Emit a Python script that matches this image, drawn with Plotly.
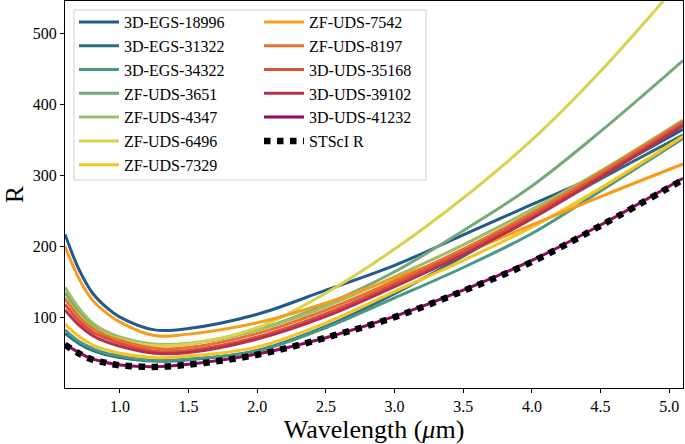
import plotly.graph_objects as go

# ---- data ----
wavelength = [0.6, 0.7, 0.8, 0.9, 1.0, 1.25, 1.5, 2.0, 2.5, 3.0, 3.5, 4.0, 4.5, 5.1]

names = ["3D-EGS-18996", "3D-EGS-31322", "3D-EGS-34322", "ZF-UDS-3651",
         "ZF-UDS-4347", "ZF-UDS-6496", "ZF-UDS-7329", "ZF-UDS-7542",
         "ZF-UDS-8197", "3D-UDS-35168", "3D-UDS-39102", "3D-UDS-41232"]

r_egs_18996 = [217, 168, 134, 114, 100, 82, 84, 104, 138, 173, 216, 259, 302, 365]
r_egs_31322 = [77, 63, 53, 47, 43, 38, 40, 53, 87, 133, 186, 240, 295, 357]
r_egs_34322 = [82, 66, 56, 49, 45, 39, 41, 52, 85, 127, 170, 218, 278, 352]
r_uds_3651 = [135, 108, 89, 78, 70, 61, 62, 82, 118, 164, 222, 285, 362, 462]
r_uds_4347 = [142, 113, 92, 80, 72, 62, 63, 82, 115, 157, 202, 252, 306, 378]
r_uds_6496 = [128, 103, 85, 75, 68, 60, 62, 85, 134, 196, 268, 350, 447, 578]
r_uds_7329 = [90, 73, 61, 54, 49, 43, 45, 58, 92, 136, 180, 227, 282, 355]
r_uds_7542 = [200, 155, 124, 106, 93, 74, 76, 92, 120, 155, 190, 230, 270, 316]
r_uds_8197 = [126, 101, 84, 74, 67, 56, 57, 77, 110, 151, 196, 247, 304, 376]
r_uds_35168 = [118, 95, 79, 70, 63, 52, 53, 72, 105, 147, 192, 243, 300, 373]
r_uds_39102 = [110, 89, 74, 65, 59, 49, 50, 69, 101, 143, 188, 239, 297, 370]
r_uds_41232 = [62, 50, 41, 36, 32.5, 30, 33.5, 48, 71, 101, 138, 180, 230, 296]

r_stsci = [61, 49, 40, 35.5, 32, 29.8, 33, 47, 71, 100, 137, 178, 229, 294]

series = [r_egs_18996, r_egs_31322, r_egs_34322, r_uds_3651, r_uds_4347,
          r_uds_6496, r_uds_7329, r_uds_7542, r_uds_8197, r_uds_35168,
          r_uds_39102, r_uds_41232]

colors = ["#235a8c", "#2a6e82", "#4a9886", "#74a97a", "#9dbd66", "#d8d34c",
          "#f7c320", "#f59d1d", "#e8712c", "#d8503c", "#b5304f", "#8f0b5c"]

FONT = "Liberation Serif, Times New Roman, serif"

fig = go.Figure()
for i, (nm, vals, col) in enumerate(zip(names, series, colors)):
    fig.add_trace(go.Scatter(
        x=wavelength, y=vals, name=nm, mode="lines",
        line=dict(color=col, width=3, shape="spline", smoothing=1.0),
        legend="legend" if i < 7 else "legend2",
        legendgroup=nm,
    ))

fig.add_trace(go.Scatter(
    x=wavelength, y=r_stsci, name="STScI R", mode="lines",
    line=dict(color="black", width=6.5, dash="dot", shape="spline", smoothing=1.0),
    legend="legend2", legendgroup="stsci",
))

W, H = 685, 444
L, R_, T, B = 65, 2, 1, 56
pw = W - L - R_
ph = H - T - B

def px2x(px):
    return (px - L) / pw

def py2y(py):
    return 1 - (py - T) / ph

legend_common = dict(
    bgcolor="rgba(0,0,0,0)", borderwidth=0,
    font=dict(family=FONT, size=16, color="black"),
    xanchor="left", yanchor="top", tracegroupgap=0, itemwidth=40,
)

fig.update_layout(
    width=W, height=H,
    margin=dict(l=L, r=R_, t=T, b=B),
    paper_bgcolor="white", plot_bgcolor="white",
    font=dict(family=FONT, color="black"),
    showlegend=True,
    legend=dict(x=px2x(74), y=py2y(5), **legend_common),
    legend2=dict(x=px2x(259), y=py2y(5), **legend_common),
    shapes=[dict(type="rect", xref="paper", yref="paper",
                 x0=px2x(74), x1=px2x(426), y0=py2y(180), y1=py2y(10),
                 line=dict(color="#d0d0d0", width=1),
                 fillcolor="rgba(255,255,255,0.8)", layer="below")],
)

fig.update_xaxes(
    range=[0.6, 5.1], tickmode="array",
    tickvals=[1.0, 1.5, 2.0, 2.5, 3.0, 3.5, 4.0, 4.5, 5.0],
    ticktext=["1.0", "1.5", "2.0", "2.5", "3.0", "3.5", "4.0", "4.5", "5.0"],
    ticks="outside", ticklen=4, tickwidth=1, tickcolor="black",
    showline=True, linecolor="black", linewidth=1, mirror=True,
    showgrid=False, zeroline=False,
    tickfont=dict(family=FONT, size=16, color="black"),
    title=dict(text="Wavelength (<i>μ</i>m)", font=dict(family=FONT, size=26, color="black"), standoff=4),
)
fig.update_yaxes(
    range=[0, 546], tickmode="array",
    tickvals=[100, 200, 300, 400, 500],
    ticks="outside", ticklen=4, tickwidth=1, tickcolor="black",
    showline=True, linecolor="black", linewidth=1, mirror=True,
    showgrid=False, zeroline=False,
    tickfont=dict(family=FONT, size=16, color="black"),
    title=dict(text="R", font=dict(family=FONT, size=26, color="black"), standoff=8),
)

fig.write_html("out.html", config={"displayModeBar": False},
               post_script="document.body.style.margin='0px';")
